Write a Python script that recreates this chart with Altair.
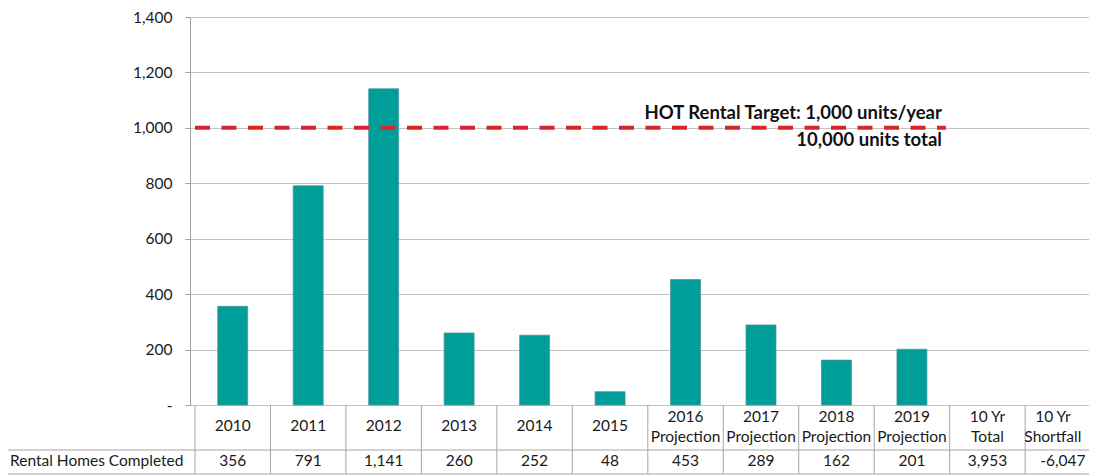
import altair as alt
import pandas as pd

categories = ["2010", "2011", "2012", "2013", "2014", "2015",
              "2016\nProjection", "2017\nProjection", "2018\nProjection",
              "2019\nProjection", "10 Yr\nTotal", "10 Yr\nShortfall"]
completed = [356, 791, 1141, 260, 252, 48, 453, 289, 162, 201]
table_values = [356, 791, 1141, 260, 252, 48, 453, 289, 162, 201, 3953, -6047]
target = 1000
target_start = 0
target_end = 9.95
row_label = "Rental Homes Completed"
annot1 = "HOT Rental Target: 1,000 units/year"
annot2 = "10,000 units total"

FONT = "Lato"
n = len(categories)
df = pd.DataFrame({
    "cat": categories,
    "pos": [i + 0.5 for i in range(n)],
    "table": [f"{v:,}" for v in table_values],
    "value": completed + [None] * (n - len(completed)),
})
df_bounds = pd.DataFrame({"b": list(range(n + 1))})
df_target = pd.DataFrame({"y": [target], "x0": [target_start], "x1": [target_end]})
df_one = pd.DataFrame({"t": [row_label]})

xscale = alt.Scale(domain=[0, n], rangeMin=0, rangeMax=915.6)
yscale = alt.Scale(domain=[0, 1400])

base = alt.Chart(df)

bars = base.mark_bar(size=30, color="#009E99", stroke="#4f8f9c", strokeWidth=0.7).encode(
    x=alt.X("pos:Q", scale=xscale, axis=None),
    y=alt.Y("value:Q", scale=yscale, axis=alt.Axis(
        values=list(range(0, 1401, 200)),
        labelExpr="datum.value == 0 ? '-\u00a0\u00a0' : format(datum.value, ',')",
        grid=True, gridColor="#c2c2c2", gridWidth=1,
        domainColor="#a0a0a0", tickColor="#a0a0a0", tickSize=5,
        labelPadding=13, labelFontSize=15.5, labelFont=FONT, labelColor="#1a1a1a",
        title=None)),
).transform_filter("isValid(datum.value)")

target_line = alt.Chart(df_target).mark_rule(
    color="#D9262B", strokeWidth=4, strokeDash=[15, 11.5]
).encode(
    x=alt.X("x0:Q", scale=xscale, axis=None),
    x2="x1:Q",
    y=alt.Y("y:Q", scale=yscale),
)

ann1 = alt.Chart(df_target).transform_calculate(t=f"'{annot1}'").mark_text(
    align="right", baseline="middle", fontSize=18.5, fontWeight="bold",
    font=FONT, color="#111111", dy=-15, dx=-4
).encode(x=alt.X("x1:Q", scale=xscale), y=alt.Y("y:Q", scale=yscale), text="t:N")

ann2 = alt.Chart(df_target).transform_calculate(t=f"'{annot2}'").mark_text(
    align="right", baseline="middle", fontSize=18.5, fontWeight="bold",
    font=FONT, color="#111111", dy=12, dx=-4
).encode(x=alt.X("x1:Q", scale=xscale), y=alt.Y("y:Q", scale=yscale), text="t:N")

header_single = base.transform_filter("indexof(datum.cat, '\\n') < 0").mark_text(
    fontSize=15.5, font=FONT, color="#1a1a1a",
    baseline="middle", align="center"
).encode(x=alt.X("pos:Q", scale=xscale), y=alt.value(409), text="cat:N")

header_multi = base.transform_filter(
    f"indexof(datum.cat, '\\n') >= 0 && datum.pos < {n - 1}"
).mark_text(
    fontSize=15.5, font=FONT, color="#1a1a1a", lineBreak="\n", lineHeight=20,
    baseline="middle", align="center"
).encode(x=alt.X("pos:Q", scale=xscale), y=alt.value(399.5), text="cat:N")

# last column is cut by the window edge: nudge its header left to stay readable
header_last = base.transform_filter(f"datum.pos > {n - 1}").mark_text(
    fontSize=15.5, font=FONT, color="#1a1a1a", lineBreak="\n", lineHeight=20,
    baseline="middle", align="center", dx=-10
).encode(x=alt.X("pos:Q", scale=xscale), y=alt.value(399.5), text="cat:N")

values_row = base.mark_text(
    fontSize=15.5, font=FONT, color="#1a1a1a", baseline="middle", align="center"
).encode(x=alt.X("pos:Q", scale=xscale), y=alt.value(444), text="table:N")

label = alt.Chart(df_one).mark_text(
    fontSize=15.5, font=FONT, color="#1a1a1a", baseline="middle", align="left"
).encode(x=alt.value(-180), y=alt.value(444), text="t:N")

vrules = alt.Chart(df_bounds).mark_rule(color="#a6a6a6", strokeWidth=1).encode(
    x=alt.X("b:Q", scale=xscale), y=alt.value(388), y2=alt.value(457)
)

hline = alt.Chart(df_one).mark_rule(color="#a6a6a6", strokeWidth=1).encode(
    x=alt.value(-185), x2=alt.value(916), y=alt.value(433)
)
hline_bottom = alt.Chart(df_one).mark_rule(color="#a6a6a6", strokeWidth=1).encode(
    x=alt.value(-185), x2=alt.value(916), y=alt.value(457)
)
lborder = alt.Chart(df_one).mark_rule(color="#a6a6a6", strokeWidth=1).encode(
    x=alt.value(-185), y=alt.value(433), y2=alt.value(457)
)

chart = alt.layer(
    bars, target_line, ann1, ann2, vrules, hline, hline_bottom, lborder,
    header_single, header_multi, header_last, values_row, label
).properties(
    width=899, height=388,
    padding={"left": 182, "top": 9, "right": 0, "bottom": 70},
    autosize=alt.AutoSizeParams(type="none"),
).configure_view(stroke=None).configure(background="white")

chart.save("out.html", embed_options={"renderer": "svg", "actions": False})
